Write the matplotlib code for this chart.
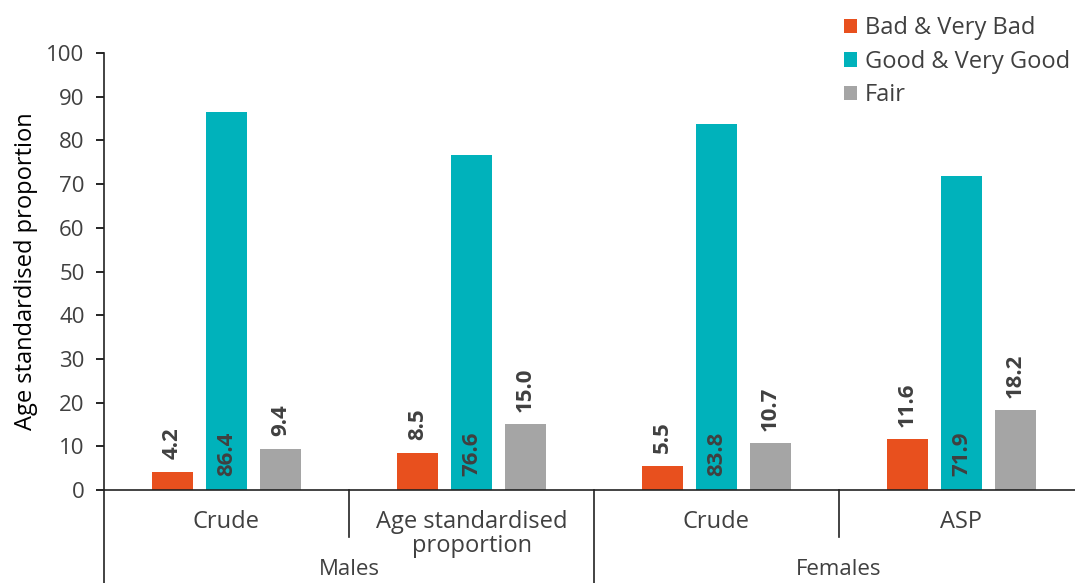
import matplotlib
matplotlib.use("Agg")
import matplotlib.pyplot as plt
from matplotlib.lines import Line2D
import numpy as np

categories = ["Crude", "Age standardised\nproportion", "Crude", "ASP"]
groups = ["Males", "Females"]
series = ["Bad & Very Bad", "Good & Very Good", "Fair"]
bad = [4.2, 8.5, 5.5, 11.6]
good = [86.4, 76.6, 83.8, 71.9]
fair = [9.4, 15.0, 10.7, 18.2]

colors = ["#E8501E", "#00B2BB", "#A5A5A5"]
text_col = "#404040"

plt.rcParams['font.family'] = ['Open Sans', 'DejaVu Sans']

fig = plt.figure(figsize=(10.75, 5.83), dpi=100)
ax = fig.add_axes([104/1075, 93/583, 980/1075, 437/583])

x = np.arange(len(categories))
offsets = [-0.22, 0.0, 0.22]
width = 0.17
values = [bad, good, fair]

for k in range(3):
    ax.bar(x + offsets[k], values[k], width, color=colors[k], label=series[k])
    for xi, v in zip(x + offsets[k], values[k]):
        if k == 1:
            ax.annotate("{0:.1f}".format(v), (xi, 0), xytext=(0, 10), textcoords="offset points",
                        rotation=90, ha="center", va="bottom", fontsize=16, fontweight="bold", color=text_col)
        else:
            ax.annotate("{0:.1f}".format(v), (xi, v), xytext=(0, 9), textcoords="offset points",
                        rotation=90, ha="center", va="bottom", fontsize=16, fontweight="bold", color=text_col)

ax.set_xlim(-0.5, 3.5)
ax.set_ylim(0, 100)
ax.set_yticks(np.arange(0, 101, 10))
ax.tick_params(axis="y", direction="out", length=6, width=1.2, labelsize=16, labelcolor=text_col, pad=8)
ax.set_xticks([])
ax.set_ylabel("Age standardised proportion", fontsize=17, color="black", labelpad=6)

for s in ["top", "right"]:
    ax.spines[s].set_visible(False)
ax.spines["left"].set_linewidth(1.2)
ax.spines["bottom"].set_linewidth(1.2)
ax.spines["left"].set_color("#222222")
ax.spines["bottom"].set_color("#222222")

trans = ax.get_xaxis_transform()
for i, c in enumerate(categories):
    ax.text(i, -0.045, c, transform=trans, ha="center", va="top", fontsize=17,
            color=text_col, linespacing=1.0)
for g, name in enumerate(groups):
    ax.text(2 * g + 0.5, -0.182, name, transform=trans, ha="center", va="center", fontsize=16, color=text_col)

for xv in [0.5, 2.5]:
    ax.add_line(Line2D([xv, xv], [0, -0.108], transform=trans, color="#222222", lw=1.2, clip_on=False))
for xv in [-0.5, 1.5, 3.5]:
    ax.add_line(Line2D([xv, xv], [0, -0.25], transform=trans, color="#222222", lw=1.2, clip_on=False))

leg = ax.legend(loc="upper left", bbox_to_anchor=(835/1075, 1 - 7/583), bbox_transform=fig.transFigure,
                frameon=False, fontsize=17, handlelength=0.55, handleheight=0.55, handletextpad=0.3,
                labelspacing=0.4, borderaxespad=0)
for t in leg.get_texts():
    t.set_color(text_col)

plt.savefig("out.png", dpi=100)
